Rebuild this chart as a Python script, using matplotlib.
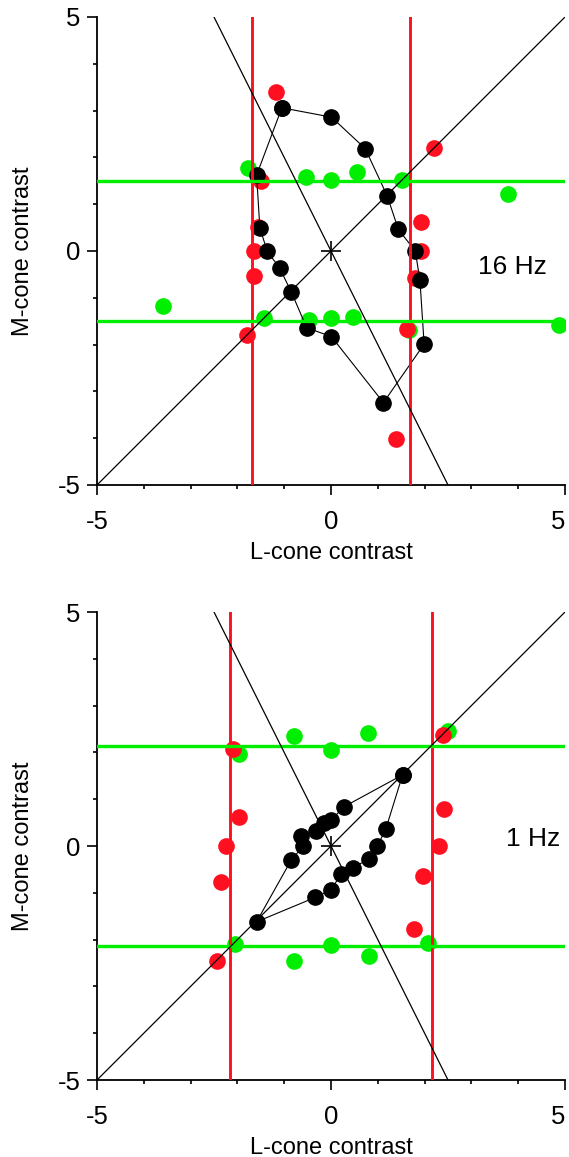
import numpy as np
import matplotlib
matplotlib.use("Agg")
import matplotlib.pyplot as plt

plt.rcParams['font.family'] = ['Liberation Sans', 'DejaVu Sans']

# 16 Hz panel
hz16_black_L = [-1.05, 0.01, 0.73, 1.20, 1.44, 1.80, 1.90, 1.99, 1.12, 0.01, -0.52, -0.85, -1.10, -1.36, -1.52, -1.59, -1.05]
hz16_black_M = [3.06, 2.86, 2.19, 1.18, 0.46, 0.00, -0.62, -1.99, -3.24, -1.83, -1.64, -0.87, -0.36, -0.01, 0.49, 1.62, 3.06]
hz16_red_L = [-1.18, 2.21, -1.50, -1.55, 1.92, -1.65, 1.92, -1.65, 1.80, -1.80, 1.62, 1.39]
hz16_red_M = [3.40, 2.21, 1.50, 0.51, 0.63, 0.00, 0.00, -0.53, -0.58, -1.79, -1.67, -4.02]
hz16_green_L = [-1.77, -0.54, 0.01, 0.55, 1.52, 3.78, -3.60, -1.43, -0.47, 0.01, 0.48, 1.67, 4.88]
hz16_green_M = [1.78, 1.59, 1.52, 1.68, 1.52, 1.22, -1.18, -1.44, -1.47, -1.44, -1.40, -1.69, -1.59]
hz16_L_thresh = 1.69
hz16_M_thresh = 1.50

# 1 Hz panel
hz1_black_L = [1.53, 0.28, 0.01, -0.16, -0.31, -0.65, -0.59, -0.85, -1.59, -0.34, 0.01, 0.21, 0.46, 0.82, 0.99, 1.17, 1.53]
hz1_black_M = [1.52, 0.84, 0.56, 0.50, 0.32, 0.21, 0.00, -0.30, -1.62, -1.10, -0.93, -0.60, -0.46, -0.28, 0.00, 0.36, 1.52]
hz1_red_L = [-2.09, 2.39, -1.96, 2.41, -2.25, 2.31, -2.34, 1.96, 1.78, -2.43]
hz1_red_M = [2.07, 2.37, 0.63, 0.78, 0.00, 0.00, -0.76, -0.64, -1.78, -2.45]
hz1_green_L = [-0.80, 0.01, 0.80, 2.49, -1.97, -2.05, -0.78, 0.01, 0.82, 2.07]
hz1_green_M = [2.35, 2.05, 2.41, 2.46, 1.97, -2.09, -2.45, -2.12, -2.36, -2.07]
hz1_L_thresh = 2.16
hz1_M_thresh = 2.13

RED = '#ff1020'
GREEN = '#00ee00'

fig = plt.figure(figsize=(5.69, 11.57), dpi=100)
ax1 = fig.add_axes([97/569, 1 - 485/1157, 468/569, 468/1157])
ax2 = fig.add_axes([97/569, 1 - 1080/1157, 468/569, 468/1157])


def draw_panel(ax, bl, bm, rl, rm, gl, gm, lt, mt, label, label_x, label_y):
    ax.scatter(gl, gm, s=12**2, color=GREEN, zorder=2, linewidths=0)
    ax.scatter(rl, rm, s=12**2, color=RED, zorder=2, linewidths=0)
    ax.plot(bl, bm, color='black', lw=0.8, marker='o', ms=11, mec='black', zorder=3)
    ax.axvline(-lt, color=RED, lw=2.1, zorder=4)
    ax.axvline(lt, color=RED, lw=2.1, zorder=4)
    ax.axhline(-mt, color=GREEN, lw=2.4, zorder=4)
    ax.axhline(mt, color=GREEN, lw=2.4, zorder=4)
    xs = np.array([-5, 5])
    ax.plot(xs, xs, color='black', lw=0.9, zorder=5)
    ax.plot(xs / 2, -xs, color='black', lw=0.9, zorder=5)
    ax.plot([0], [0], marker='+', ms=15, mew=1.2, color='black', zorder=5)
    ax.text(label_x, label_y, label, fontsize=19, ha='right', va='center')

    ax.set_xlim(-5, 5)
    ax.set_ylim(-5, 5)
    for s in ['top', 'right']:
        ax.spines[s].set_visible(False)
    for s in ['left', 'bottom']:
        ax.spines[s].set_linewidth(1.3)
    ax.set_xticks([-5, 0, 5])
    ax.set_yticks([-5, 0, 5])
    ax.set_xticklabels(['-5', '0', '5'])
    ax.set_yticklabels(['-5', '0', '5'])
    ax.set_xticks(np.arange(-5, 6), minor=True)
    ax.set_yticks(np.arange(-5, 6), minor=True)
    ax.tick_params(which='major', length=7, width=1.2, labelsize=18.5)
    ax.tick_params(which='minor', length=2.6, width=1.2)
    ax.tick_params(axis='x', which='major', pad=11)
    ax.tick_params(axis='y', which='major', pad=5)
    ax.set_xlabel('L-cone contrast', fontsize=17, labelpad=6)
    ax.set_ylabel('M-cone contrast', fontsize=17, labelpad=17)
    # the last "5" sits at the figure edge, keep it inside
    ax.get_xticklabels()[-1].set_horizontalalignment('right')


draw_panel(ax1, hz16_black_L, hz16_black_M, hz16_red_L, hz16_red_M,
           hz16_green_L, hz16_green_M, hz16_L_thresh, hz16_M_thresh, '16 Hz', 4.62, -0.35)
draw_panel(ax2, hz1_black_L, hz1_black_M, hz1_red_L, hz1_red_M,
           hz1_green_L, hz1_green_M, hz1_L_thresh, hz1_M_thresh, '1 Hz', 4.89, 0.16)

fig.savefig('out.png', dpi=100)
